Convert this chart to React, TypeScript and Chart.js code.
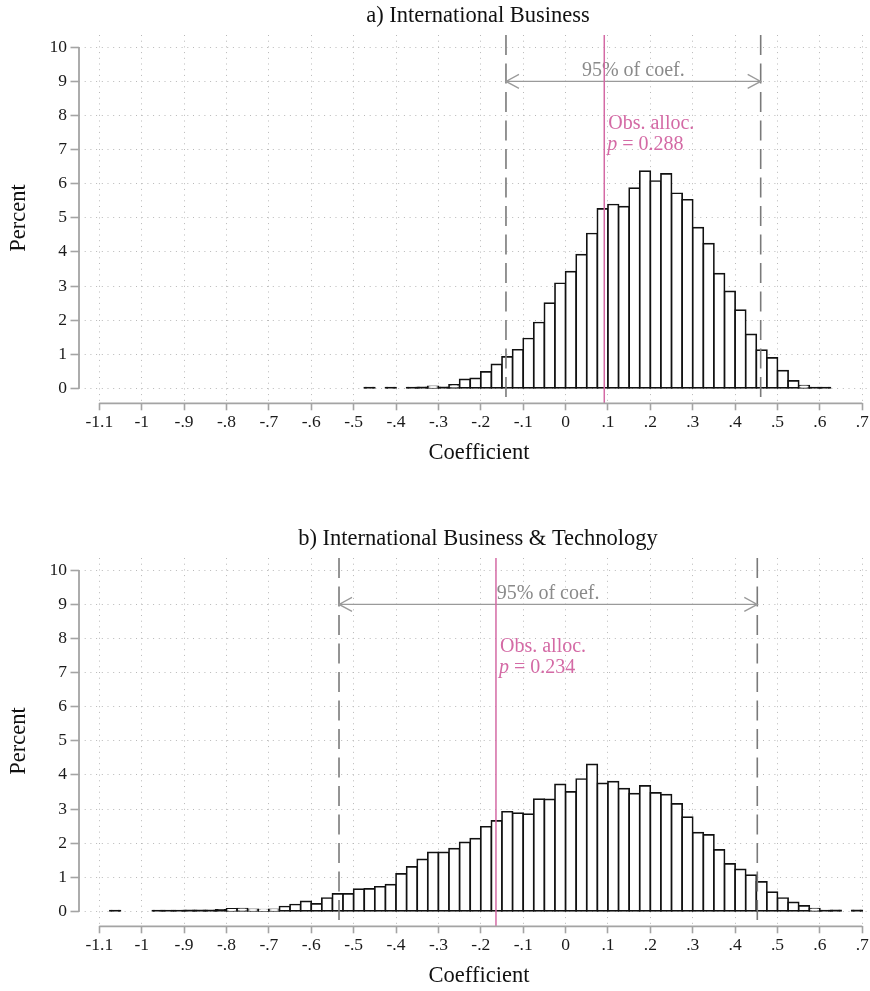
import React, { useEffect, useRef } from "react";
import { Chart, registerables } from "chart.js";

Chart.register(...registerables);

// ---------- data ----------
const BIN_WIDTH = 0.025;
const X_TICKS = [-1.1, -1.0, -0.9, -0.8, -0.7, -0.6, -0.5, -0.4, -0.3, -0.2, -0.1, 0, 0.1, 0.2, 0.3, 0.4, 0.5, 0.6, 0.7];
const Y_TICKS = [0, 1, 2, 3, 4, 5, 6, 7, 8, 9, 10];
const X_TITLE = "Coefficient";
const Y_TITLE = "Percent";
const CI_LABEL = "95% of coef.";
const OBS_LABEL = "Obs. alloc.";
const ARROW_Y = 9;

const A_TITLE = "a) International Business";
const A_BIN_START = -0.475;
const A_PERCENT = [
  0.02, null, 0.02, null, 0.02, 0.03, 0.06, 0.03, 0.10, 0.26,
  0.29, 0.48, 0.70, 0.92, 1.13, 1.46, 1.93, 2.50, 3.08, 3.42,
  3.92, 4.54, 5.26, 5.39, 5.33, 5.87, 6.37, 6.08, 6.29, 5.72,
  5.53, 4.71, 4.24, 3.36, 2.84, 2.29, 1.58, 1.12, 0.89, 0.52,
  0.22, 0.08, 0.02, 0.02,
];
const A_CI = [-0.1406, 0.4603];
const A_OBS = 0.0913;
const A_P = "0.288";

const B_TITLE = "b) International Business & Technology";
const B_BIN_START = -1.075;
const B_PERCENT = [
  0.02, null, null, null, 0.02, 0.02, 0.02, 0.03, 0.03, 0.03,
  0.04, 0.07, 0.08, 0.06, 0.05, 0.06, 0.14, 0.20, 0.29, 0.22,
  0.39, 0.51, 0.51, 0.65, 0.66, 0.72, 0.78, 1.10, 1.30, 1.52,
  1.73, 1.73, 1.84, 2.02, 2.13, 2.48, 2.65, 2.92, 2.88, 2.85,
  3.29, 3.28, 3.72, 3.50, 3.88, 4.31, 3.75, 3.80, 3.60, 3.45,
  3.68, 3.47, 3.42, 3.15, 2.76, 2.31, 2.24, 1.80, 1.39, 1.23,
  1.06, 0.86, 0.56, 0.39, 0.26, 0.16, 0.08, 0.02, 0.03, null,
  0.03,
];
const B_CI = [-0.5345, 0.4523];
const B_OBS = -0.1642;
const B_P = "0.234";

// ---------- styling ----------
const W = 870;
const H = 468;
const FONT = '"Liberation Serif", "Times New Roman", serif';
const PINK = "#d46aa5";
const AXIS_GRAY = "#a4a4a4";
const GRID_GRAY = "#b8b8b8";

type PanelSpec = {
  title: string;
  binStart: number;
  values: (number | null)[];
  ci: number[];
  obs: number;
  p: string;
};

function fmtX(v: number): string {
  const r = Math.round(v * 10) / 10;
  if (r === 0) return "0";
  return String(r).replace(/^(-?)0\./, "$1.");
}

function makeOverlay(spec: PanelSpec) {
  return {
    id: "histOverlay",
    afterDatasetsDraw(chart: any) {
      const { ctx, chartArea, scales } = chart;
      const xs = scales.x;
      const ys = scales.y;
      const top = chartArea.top;
      const bottom = chartArea.bottom;
      ctx.save();
      // CI dashed lines
      ctx.strokeStyle = "#7a7a7a";
      ctx.lineWidth = 1.6;
      ctx.setLineDash([20, 8.5]);
      for (const v of spec.ci) {
        const px = xs.getPixelForValue(v);
        ctx.beginPath();
        ctx.moveTo(px, top);
        ctx.lineTo(px, bottom);
        ctx.stroke();
      }
      ctx.setLineDash([]);

      // arrow
      const x1 = xs.getPixelForValue(spec.ci[0]);
      const x2 = xs.getPixelForValue(spec.ci[1]);
      const ay = ys.getPixelForValue(ARROW_Y);
      ctx.strokeStyle = "#9a9a9a";
      ctx.lineWidth = 1.3;
      ctx.beginPath();
      ctx.moveTo(x1, ay);
      ctx.lineTo(x2, ay);
      ctx.moveTo(x1 + 13, ay - 7);
      ctx.lineTo(x1, ay);
      ctx.lineTo(x1 + 13, ay + 7);
      ctx.moveTo(x2 - 13, ay - 7);
      ctx.lineTo(x2, ay);
      ctx.lineTo(x2 - 13, ay + 7);
      ctx.stroke();

      ctx.fillStyle = "#8a8a8a";
      ctx.font = `20px ${FONT}`;
      ctx.textAlign = "center";
      ctx.textBaseline = "alphabetic";
      ctx.fillText(CI_LABEL, (x1 + x2) / 2, ay - 5);

      // observed line
      const ox = xs.getPixelForValue(spec.obs);
      ctx.strokeStyle = PINK;
      ctx.lineWidth = 1.5;
      ctx.beginPath();
      ctx.moveTo(ox, top);
      ctx.lineTo(ox, bottom);
      ctx.stroke();

      const by = ys.getPixelForValue(7);
      ctx.fillStyle = PINK;
      ctx.textAlign = "left";
      ctx.font = `20px ${FONT}`;
      ctx.fillText(OBS_LABEL, ox + 4, by - 21);
      ctx.font = `italic 20px ${FONT}`;
      ctx.fillText("p", ox + 3, by);
      const pw = ctx.measureText("p").width;
      ctx.font = `20px ${FONT}`;
      ctx.fillText(" = " + spec.p, ox + 3 + pw, by);
      ctx.restore();
    },
    afterDraw(chart: any) {
      const { ctx, chartArea, scales } = chart;
      const xs = scales.x;
      const ys = scales.y;
      ctx.save();
      // axis lines
      ctx.strokeStyle = AXIS_GRAY;
      ctx.lineWidth = 1.8;
      ctx.beginPath();
      ctx.moveTo(chartArea.left, ys.getPixelForValue(Y_TICKS[0]));
      ctx.lineTo(chartArea.left, ys.getPixelForValue(Y_TICKS[Y_TICKS.length - 1]));
      ctx.moveTo(xs.getPixelForValue(X_TICKS[0]), chartArea.bottom);
      ctx.lineTo(xs.getPixelForValue(X_TICKS[X_TICKS.length - 1]), chartArea.bottom);
      ctx.stroke();

      // titles
      ctx.fillStyle = "#111";
      ctx.font = `22.5px ${FONT}`;
      ctx.textAlign = "center";
      ctx.textBaseline = "alphabetic";
      ctx.fillText(spec.title, 478, 22);
      ctx.fillText(X_TITLE, 479, 459);
      ctx.translate(25, 218);
      ctx.rotate(-Math.PI / 2);
      ctx.fillText(Y_TITLE, 0, 0);
      ctx.restore();
    },
  };
}

function buildConfig(spec: PanelSpec): any {
  const data = spec.values.map((v, i) => ({
    x: spec.binStart + (i + 0.5) * BIN_WIDTH,
    y: v,
  }));
  return {
    type: "bar",
    data: {
      datasets: [
        {
          data,
          backgroundColor: (c: any) =>
            c.raw && c.raw.y != null && c.raw.y < 0.05 ? "#111111" : "#ffffff",
          borderColor: "#111111",
          borderWidth: 1.7,
          borderSkipped: false,
          inflateAmount: 0.85,
          barPercentage: 1,
          categoryPercentage: 1,
        },
      ],
    },
    options: {
      animation: false,
      responsive: false,
      maintainAspectRatio: false,
      devicePixelRatio: 1,
      events: [],
      layout: { padding: { top: 35, left: 0, right: 0, bottom: 0 } },
      plugins: {
        legend: { display: false },
        tooltip: { enabled: false },
        title: { display: false },
      },
      scales: {
        x: {
          type: "linear",
          offset: false,
          min: -1.1479,
          max: 0.7182,
          afterBuildTicks: (s: any) => {
            s.ticks = X_TICKS.map((v) => ({ value: v }));
          },
          afterFit: (s: any) => {
            s.height = H - 403.3;
            s.paddingLeft = 0;
            s.paddingRight = 0;
          },
          ticks: {
            autoSkip: false,
            maxRotation: 0,
            minRotation: 0,
            padding: 2,
            color: "#1a1a1a",
            font: { family: FONT, size: 17.5 },
            callback: (v: any) => fmtX(Number(v)),
          },
          grid: {
            offset: false,
            color: GRID_GRAY,
            lineWidth: 1,
            drawTicks: true,
            tickLength: 7,
            tickColor: AXIS_GRAY,
            tickWidth: 1.6,
            tickBorderDash: [],
          },
          border: { display: false, dash: [1, 4.7] },
        },
        y: {
          min: -0.44,
          max: 10.361,
          afterBuildTicks: (s: any) => {
            s.ticks = Y_TICKS.map((v) => ({ value: v }));
          },
          afterFit: (s: any) => {
            s.width = 79;
            s.paddingTop = 0;
            s.paddingBottom = 0;
          },
          ticks: {
            padding: 3.5,
            color: "#1a1a1a",
            font: { family: FONT, size: 17.5 },
            callback: (v: any) => String(v),
          },
          grid: {
            color: GRID_GRAY,
            lineWidth: 1,
            drawTicks: true,
            tickLength: 8.5,
            tickColor: AXIS_GRAY,
            tickWidth: 1.6,
            tickBorderDash: [],
          },
          border: { display: false, dash: [1, 4.7] },
        },
      },
    },
    plugins: [makeOverlay(spec)],
  };
}

function Panel({ spec, top }: { spec: PanelSpec; top: number }) {
  const ref = useRef<HTMLCanvasElement | null>(null);
  useEffect(() => {
    if (!ref.current) return;
    const chart = new Chart(ref.current, buildConfig(spec));
    return () => chart.destroy();
  }, [spec]);
  return (
    <canvas
      ref={ref}
      width={W}
      height={H}
      style={{ position: "absolute", left: 0, top, width: W, height: H, display: "block" }}
    />
  );
}

const SPEC_A: PanelSpec = {
  title: A_TITLE,
  binStart: A_BIN_START,
  values: A_PERCENT,
  ci: A_CI,
  obs: A_OBS,
  p: A_P,
};
const SPEC_B: PanelSpec = {
  title: B_TITLE,
  binStart: B_BIN_START,
  values: B_PERCENT,
  ci: B_CI,
  obs: B_OBS,
  p: B_P,
};

export default function App() {
  return (
    <div
      style={{
        position: "absolute",
        left: 0,
        top: 0,
        width: 870,
        height: 991,
        background: "#ffffff",
        overflow: "hidden",
      }}
    >
      <Panel spec={SPEC_A} top={0} />
      <Panel spec={SPEC_B} top={523} />
    </div>
  );
}
